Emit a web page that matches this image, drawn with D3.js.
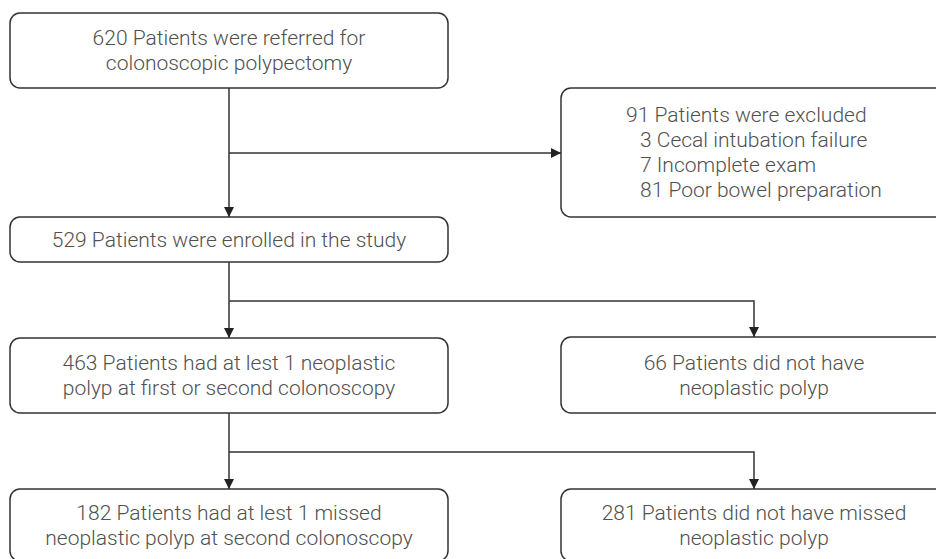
<!DOCTYPE html>
<html>
<head>
<meta charset="utf-8">
<script src="https://cdn.jsdelivr.net/npm/d3@7"></script>
<style>
  html, body { margin: 0; padding: 0; background: #fff; }
  svg { display: block; }
</style>
</head>
<body>
<div id="chart"></div>
<script>
/* Dimensions */
let width = 936, height = 559;

/* Data: box ids and their text lines */
let boxIds = ['referred', 'excluded', 'enrolled', 'neoplastic', 'noNeoplastic', 'missed', 'notMissed'];
let boxLines = [
  ['620 Patients were referred for', 'colonoscopic polypectomy'],
  ['91 Patients were excluded', '3 Cecal intubation failure', '7 Incomplete exam', '81 Poor bowel preparation'],
  ['529 Patients were enrolled in the study'],
  ['463 Patients had at lest 1 neoplastic', 'polyp at first or second colonoscopy'],
  ['66 Patients did not have', 'neoplastic polyp'],
  ['182 Patients had at lest 1 missed', 'neoplastic polyp at second colonoscopy'],
  ['281 Patients did not have missed', 'neoplastic polyp']
];
// links: from -> to
let linkFrom = ['referred', 'referred', 'enrolled', 'enrolled', 'neoplastic', 'neoplastic'];
let linkTo   = ['enrolled', 'excluded', 'neoplastic', 'noNeoplastic', 'missed', 'notMissed'];

/* Layout (pixels) */
let colX = d3.scaleOrdinal().domain(['left', 'right']).range([10, 561]);
let colW = { left: 438, right: 386 };
let layout = {
  referred:     { col: 'left',  y: 13,  h: 75 },
  excluded:     { col: 'right', y: 88,  h: 129, align: 'left' },
  enrolled:     { col: 'left',  y: 217, h: 45 },
  neoplastic:   { col: 'left',  y: 338, h: 75 },
  noNeoplastic: { col: 'right', y: 337, h: 76 },
  missed:       { col: 'left',  y: 489, h: 72 },
  notMissed:    { col: 'right', y: 489, h: 72 }
};
// vertical position of the elbow for each link branch
let branchY = { referred: 153, enrolled: 301, neoplastic: 452 };

let lineH = 25;
let textColor = '#505050', strokeColor = '#333';

let boxes = boxIds.map((id, i) => {
  let l = layout[id];
  let x = colX(l.col), w = colW[l.col];
  return { id, lines: boxLines[i], x, y: l.y, w, h: l.h, cx: x + w / 2, align: l.align };
});
let boxById = new Map(boxes.map(b => [b.id, b]));

let svg = d3.select('#chart')
  .append('svg')
  .attr('width', width)
  .attr('height', height);

svg.append('defs').append('marker')
  .attr('id', 'arrow')
  .attr('viewBox', '0 0 10 10')
  .attr('refX', 10).attr('refY', 5)
  .attr('markerWidth', 10).attr('markerHeight', 10)
  .attr('markerUnits', 'userSpaceOnUse')
  .attr('orient', 'auto')
  .append('path')
  .attr('d', 'M0,0 L10,5 L0,10 Z')
  .attr('fill', '#222');

/* Links */
let links = linkFrom.map((f, i) => ({ source: boxById.get(f), target: boxById.get(linkTo[i]) }));

svg.selectAll('.link')
  .data(links)
  .enter().append('path')
  .attr('class', 'link')
  .attr('fill', 'none')
  .attr('stroke', strokeColor)
  .attr('stroke-width', 1.5)
  .attr('marker-end', 'url(#arrow)')
  .attr('d', function (d) {
    let s = d.source, t = d.target;
    let sx = s.cx, sy = s.y + s.h;
    let p = d3.path();
    if (t.x === s.x) {
      // straight down
      p.moveTo(sx, sy);
      p.lineTo(sx, t.y);
    } else if (t.id === 'excluded') {
      let by = branchY[s.id];
      p.moveTo(sx, by);
      p.lineTo(t.x, by);
    } else {
      let by = branchY[s.id];
      p.moveTo(sx, by);
      p.lineTo(t.cx, by);
      p.lineTo(t.cx, t.y);
    }
    return p.toString();
  });

/* Boxes */
let box = svg.selectAll('.box')
  .data(boxes)
  .enter().append('g')
  .attr('class', 'box');

box.append('rect')
  .attr('x', d => d.x)
  .attr('y', d => d.y)
  .attr('width', d => d.w)
  .attr('height', d => d.h)
  .attr('rx', 10).attr('ry', 10)
  .attr('fill', '#fff')
  .attr('stroke', strokeColor)
  .attr('stroke-width', 1.5);

box.each(function (d) {
  let g = d3.select(this);
  let n = d.lines.length;
  let midY = d.y + d.h / 2;
  d.lines.forEach((line, i) => {
    let ty = midY + (i - (n - 1) / 2) * lineH;
    let t = g.append('text')
      .attr('y', ty)
      .attr('dy', '0.35em')
      .attr('fill', textColor)
      .style('font-family', 'Roboto, sans-serif')
      .style('font-weight', 300)
      .style('font-size', '21px')
      .text(line);
    if (d.align === 'left') {
      t.attr('x', i === 0 ? 626 : 640).attr('text-anchor', 'start');
    } else {
      t.attr('x', d.cx).attr('text-anchor', 'middle');
    }
  });
});
</script>
</body>
</html>
